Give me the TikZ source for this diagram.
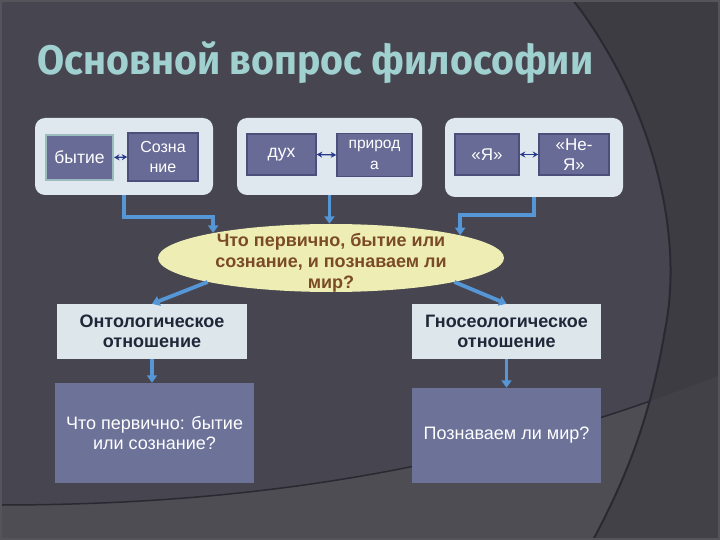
\documentclass[tikz,border=0pt]{standalone}
\usepackage{fontspec}
\setmainfont{Liberation Sans}
\newfontfamily\titlefont{Fira Sans}
\usetikzlibrary{shapes.geometric,arrows.meta,calc}
\definecolor{bgdark}{HTML}{3D3C43}
\definecolor{bgmain}{HTML}{47454F}
\definecolor{bglow}{HTML}{4E4D54}
\definecolor{bglowr}{HTML}{424148}
\definecolor{bgline}{HTML}{2A2931}
\definecolor{frame}{HTML}{55545A}
\definecolor{titlecol}{HTML}{A0D0D0}
\definecolor{grpfill}{HTML}{DFE8EE}
\definecolor{sfill}{HTML}{686B96}
\definecolor{sdraw}{HTML}{4C4F7A}
\definecolor{tealedge}{HTML}{9CBCC0}
\definecolor{ellfill}{HTML}{EDEDB4}
\definecolor{elltext}{HTML}{7B4B28}
\definecolor{lightbox}{HTML}{DDE6EB}
\definecolor{darktext}{HTML}{1E2838}
\definecolor{bigfill}{HTML}{6D7299}
\definecolor{conn}{HTML}{5596D6}
\definecolor{connedge}{HTML}{2F5F96}
\definecolor{navy}{HTML}{283A8A}
\tikzset{
  grp/.style={rectangle, rounded corners=10pt, fill=grpfill, draw=none},
  sbox/.style={rectangle, fill=sfill, draw=sdraw, line width=1.5pt, text=white,
    font=\fontsize{17}{19}\selectfont, align=center, inner sep=0pt},
  ellq/.style={ellipse, fill=ellfill, draw=none, inner sep=0pt},
  headbox/.style={rectangle, fill=lightbox, draw=none, text=darktext, inner sep=0pt,
    font=\fontsize{18}{20.5}\selectfont\bfseries, align=center},
  bigbox/.style={rectangle, fill=bigfill, draw=none, text=white, inner sep=0pt,
    font=\fontsize{18}{20}\selectfont, align=center},
  connector/.style={draw=conn, line width=3.8pt,
    -{Triangle[width=10pt,length=7.5pt]}},
  dbl/.style={draw=navy, line width=1.3pt,
    {Stealth[length=5.5pt,width=6pt]}-{Stealth[length=5.5pt,width=6pt]}},
}
\begin{document}
\begin{tikzpicture}[x=1pt,y=-1pt]
\useasboundingbox (0,0) rectangle (720,540);
% background
\fill[bgdark] (0,0) rectangle (720,540);
\fill[bglowr] (0,505) .. controls (250,505) and (480,470) .. (720,375) -- (720,540) -- (0,540) -- cycle;
\begin{scope}
  \clip (0,0) -- (573,0) .. controls (650,100) and (685,230) .. (665,330)
        .. controls (650,420) and (625,480) .. (593,540) -- (0,540) -- cycle;
  \fill[bgmain] (0,0) rectangle (720,540);
  \fill[bglow] (0,505) .. controls (250,505) and (480,470) .. (720,375) -- (720,540) -- (0,540) -- cycle;
  \draw[bgline, line width=1.5pt] (0,505) .. controls (250,505) and (480,470) .. (720,375);
\end{scope}
\draw[bgline, line width=2pt] (573,0) .. controls (650,100) and (685,230) .. (665,330)
        .. controls (650,420) and (625,480) .. (593,540);
\draw[frame, line width=4pt] (0,0) rectangle (720,540);

% title
\node[anchor=base west, inner sep=0pt, text=titlecol] (title) at (37,75)
  {\resizebox{556pt}{33pt}{\titlefont\bfseries Основной вопрос философии}};

% top groups
\node[grp, minimum width=178pt, minimum height=77pt] (g1) at (124,156.5) {};
\node[grp, minimum width=185pt, minimum height=77pt] (g2) at (329.5,156.5) {};
\node[grp, minimum width=178pt, minimum height=79pt] (g3) at (534,157.5) {};

\node[sbox, draw=tealedge, line width=2pt, minimum width=67pt, minimum height=45pt,
  font=\fontsize{17.5}{19}\selectfont] (b1) at (79.5,157.5) {бытие};
\node[sbox, minimum width=70pt, minimum height=48pt,
  font=\fontsize{16}{20}\selectfont] (b2) at (163,157) {Созна\\ние};
\node[sbox, minimum width=69pt, minimum height=41pt,
  font=\fontsize{17.5}{19}\selectfont] (b3) at (281.5,154.5) {дух};
\node[sbox, minimum width=75pt, minimum height=43pt,
  font=\fontsize{15.5}{21}\selectfont] (b4) at (374.5,155) {природ\\а};
\node[sbox, minimum width=64pt, minimum height=41pt,
  font=\fontsize{17}{19}\selectfont] (b5) at (487,154.5) {«Я»};
\node[sbox, minimum width=70pt, minimum height=41pt,
  font=\fontsize{17}{20}\selectfont] (b6) at (574,154.5) {«Не-\\Я»};

\draw[dbl] (b1.east) -- (b2.west);
\draw[dbl] (b3.east) -- (b4.west);
\draw[dbl] (b5.east) -- (b6.west);

% central question
\node[ellq, minimum width=346pt, minimum height=68pt] (q) at (331,258) {};
\node[text=elltext, font=\fontsize{18}{21}\selectfont\bfseries, align=center,
  inner sep=0pt] (qt) at (331,263) {Что первично, бытие или\\сознание, и познаваем ли\\мир?};

% lower boxes
\node[headbox, minimum width=190pt, minimum height=55pt] (o1) at (152,331.5)
  {Онтологическое\\отношение};
\node[headbox, minimum width=189pt, minimum height=55pt] (o2) at (506.5,331.5)
  {Гносеологическое\\отношение};
\node[bigbox, minimum width=199pt, minimum height=100pt] (p1) at (154.5,433)
  {Что первично: бытие\\или сознание?};
\node[bigbox, minimum width=189pt, minimum height=95pt] (p2) at (506.5,435.5)
  {Познаваем ли мир?};

% connectors
\draw[connector] ($(g1.south -| b2.west)+(-3,0)$) -- ++(0,22) -| (q.168.6);
\draw[connector] (g2.south) -- (g2.south |- q.north);
\draw[connector] (g3.south) -- ++(0,18) -| (q.10.8);
\draw[connector] (q.191.4) -- (o1.north);
\draw[connector] (q.349.2) -- (o2.north);
\draw[connector] (o1.south) -- (o1.south |- p1.north);
\draw[connector] (o2.south) -- (o2.south |- p2.north);
\end{tikzpicture}
\end{document}
